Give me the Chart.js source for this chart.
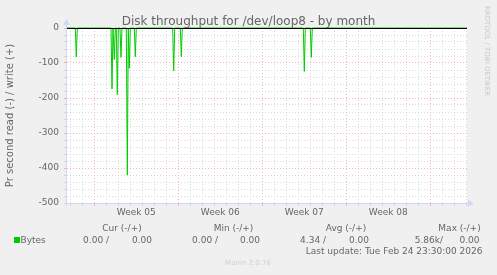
<!DOCTYPE html>
<html lang="en">
<head>
<meta charset="UTF-8">
<title>Disk throughput for /dev/loop8 - by month</title>
<script src="https://cdn.jsdelivr.net/npm/chart.js"></script>
<style>
    html, body {
        margin: 0;
        padding: 0;
        background: #f0f0f0;
    }
    canvas {
        display: block;
    }
</style>
</head>
<body>
<canvas id="diskChart" width="497" height="275"></canvas>
<script>
    // time = hours from the left edge of the graph window
    const windowHours = 800;
    const spikeHours = [18.6, 90, 94.6, 100.6, 108, 120.6, 124.6, 136.6, 213.4, 228.6, 474.6, 488.6];
    const readValues = [-83, -174, -90, -190, -84, -420, -115, -82, -122, -82, -124, -84];

    // grid and tick labels
    const firstDayLine = 6.6;
    const weekStarts = [54.6, 222.6, 390.6, 558.6, 726.6];
    const weekLabels = ["Week 05", "Week 06", "Week 07", "Week 08"];
    const yMin = -500, yMax = 0, yStep = 20, yLabelStep = 100;

    // legend texts
    const legendHeads = ["Cur (-/+)", "Min (-/+)", "Avg (-/+)", "Max (-/+)"];
    const legendReads = ["0.00 /", "0.00 /", "4.34 /", "5.86k/"];
    const legendWrites = ["0.00", "0.00", "0.00", "0.00"];
    const seriesName = "Bytes";
    const lastUpdate = "Last update: Tue Feb 24 23:30:00 2026";

    const FONT = '"DejaVu Sans", sans-serif';
    const TEXT = "#666666";
    const GREEN = "#00cc00";
    const AXIS = "#cfd6f8";
    const MINOR = "rgba(200,200,200,0.65)";
    const MAJOR = "rgba(240,140,140,0.65)";

    // read series: zero baseline with a spike at each sample
    const readPoints = [{ x: 0, y: 0 }];
    spikeHours.forEach((h, i) => {
        readPoints.push({ x: h - 2, y: 0 }, { x: h, y: readValues[i] }, { x: h + 2, y: 0 });
    });
    readPoints.push({ x: windowHours, y: 0 });

    const weekCenters = weekLabels.map((_, i) => (weekStarts[i] + weekStarts[i + 1]) / 2);
    const isNear = (list, v) => list.some(w => Math.abs(w - v) < 0.01);

    function xGridColor(ctx) {
        const v = ctx.tick ? ctx.tick.value : null;
        if (v === null || isNear(weekCenters, v)) return "rgba(0,0,0,0)";
        return isNear(weekStarts, v) ? MAJOR : MINOR;
    }

    function yGridColor(ctx) {
        const v = ctx.tick ? ctx.tick.value : null;
        if (v === null) return "rgba(0,0,0,0)";
        return v % yLabelStep === 0 ? MAJOR : MINOR;
    }

    const muninDecor = {
        id: "muninDecor",
        beforeDraw(chart) {
            const { ctx, chartArea: a } = chart;
            ctx.save();
            ctx.fillStyle = "#f0f0f0";
            ctx.fillRect(0, 0, chart.width, chart.height);
            ctx.fillStyle = "#ffffff";
            ctx.fillRect(a.left, a.top, a.right - a.left, a.bottom - a.top);
            ctx.restore();
        },
        afterDatasetsDraw(chart) {
            const { ctx, chartArea: a } = chart;
            ctx.save();
            // black rule at zero, on top of the series
            const y0 = Math.round(chart.scales.y.getPixelForValue(0)) + 0.5;
            ctx.strokeStyle = "#000000";
            ctx.lineWidth = 1;
            ctx.beginPath();
            ctx.moveTo(a.left, y0);
            ctx.lineTo(a.right, y0);
            ctx.stroke();

            ctx.strokeStyle = AXIS;
            ctx.fillStyle = AXIS;
            ctx.beginPath();
            ctx.moveTo(a.left - 0.5, a.bottom + 3);
            ctx.lineTo(a.left - 0.5, a.top - 3);
            ctx.moveTo(a.left - 3, a.bottom + 0.5);
            ctx.lineTo(a.right + 1, a.bottom + 0.5);
            ctx.stroke();
            // arrows
            ctx.beginPath();
            ctx.moveTo(a.left - 0.5, a.top - 9);
            ctx.lineTo(a.left - 4, a.top - 3);
            ctx.lineTo(a.left + 3, a.top - 3);
            ctx.closePath();
            ctx.fill();
            ctx.beginPath();
            ctx.moveTo(a.right + 7, a.bottom + 0.5);
            ctx.lineTo(a.right + 1, a.bottom - 3);
            ctx.lineTo(a.right + 1, a.bottom + 4);
            ctx.closePath();
            ctx.fill();
            ctx.restore();
        },
        afterDraw(chart) {
            const { ctx, chartArea: a } = chart;
            ctx.save();
            ctx.fillStyle = TEXT;
            ctx.textBaseline = "alphabetic";

            ctx.font = "12px " + FONT;
            ctx.textAlign = "center";
            ctx.fillText("Disk throughput for /dev/loop8 - by month", 248.5, 25);

            ctx.save();
            ctx.font = "10px " + FONT;
            ctx.textBaseline = "middle";
            ctx.translate(10.5, (a.top + a.bottom) / 2);
            ctx.rotate(-Math.PI / 2);
            ctx.fillText("Pr second read (-) / write (+)", 0, 0);
            ctx.restore();

            ctx.save();
            ctx.font = "7px " + FONT;
            ctx.fillStyle = "#c8c8c8";
            ctx.textBaseline = "middle";
            ctx.translate(486.5, 51);
            ctx.rotate(Math.PI / 2);
            ctx.fillText("RRDTOOL / TOBI OETIKER", 0, 0);
            ctx.restore();

            // legend
            ctx.font = "9px " + FONT;
            const headX = [122, 233.5, 346, 459.5];
            legendHeads.forEach((t, i) => ctx.fillText(t, headX[i], 230.5));

            ctx.fillStyle = GREEN;
            ctx.fillRect(14, 237, 6, 6);
            ctx.fillStyle = TEXT;
            ctx.textAlign = "left";
            ctx.fillText(seriesName, 20.5, 242.5);

            ctx.textAlign = "right";
            const readX = [109, 218, 326, 443];
            const writeX = [152, 260, 369, 479.5];
            legendReads.forEach((t, i) => ctx.fillText(t, readX[i], 242.5));
            legendWrites.forEach((t, i) => ctx.fillText(t, writeX[i], 242.5));

            ctx.fillText(lastUpdate, 482.5, 254);

            ctx.font = "7px " + FONT;
            ctx.fillStyle = "#d0d0d0";
            ctx.textAlign = "center";
            ctx.fillText("Munin 2.0.76", 248, 265);
            ctx.restore();
        }
    };

    new Chart(document.getElementById("diskChart"), {
        type: "line",
        data: {
            datasets: [{
                label: seriesName,
                data: readPoints,
                borderColor: GREEN,
                borderWidth: 1,
                pointRadius: 0,
                tension: 0,
                fill: false,
                clip: false
            }]
        },
        options: {
            responsive: false,
            animation: false,
            events: [],
            layout: { padding: { left: 0, top: 28, right: 30, bottom: 0 } },
            plugins: {
                legend: { display: false },
                tooltip: { enabled: false }
            },
            scales: {
                x: {
                    type: "linear",
                    min: 0,
                    max: windowHours,
                    afterFit: s => { s.height = 72; },
                    afterBuildTicks: s => {
                        const ticks = [];
                        for (let h = firstDayLine; h < windowHours; h += 24) ticks.push({ value: h });
                        weekCenters.forEach(c => ticks.push({ value: c }));
                        ticks.sort((p, q) => p.value - q.value);
                        s.ticks = ticks;
                    },
                    grid: {
                        color: xGridColor,
                        tickColor: xGridColor,
                        tickLength: 3,
                        lineWidth: 1
                    },
                    border: { display: false, dash: [1, 2] },
                    ticks: {
                        autoSkip: false,
                        maxRotation: 0,
                        minRotation: 0,
                        padding: 1,
                        color: TEXT,
                        font: { family: FONT, size: 9 },
                        callback: v => {
                            const i = weekCenters.findIndex(c => Math.abs(c - v) < 0.01);
                            return i >= 0 ? weekLabels[i] : "";
                        }
                    }
                },
                y: {
                    min: yMin,
                    max: yMax,
                    afterFit: s => { s.width = 67; },
                    grid: {
                        color: yGridColor,
                        tickColor: yGridColor,
                        tickLength: 3,
                        lineWidth: 1
                    },
                    border: { display: false, dash: [1, 2] },
                    ticks: {
                        stepSize: yStep,
                        autoSkip: false,
                        padding: 5,
                        color: TEXT,
                        font: { family: FONT, size: 9 },
                        callback: v => (v % yLabelStep === 0 ? String(v) : "")
                    }
                }
            }
        },
        plugins: [muninDecor]
    });
</script>
</body>
</html>
